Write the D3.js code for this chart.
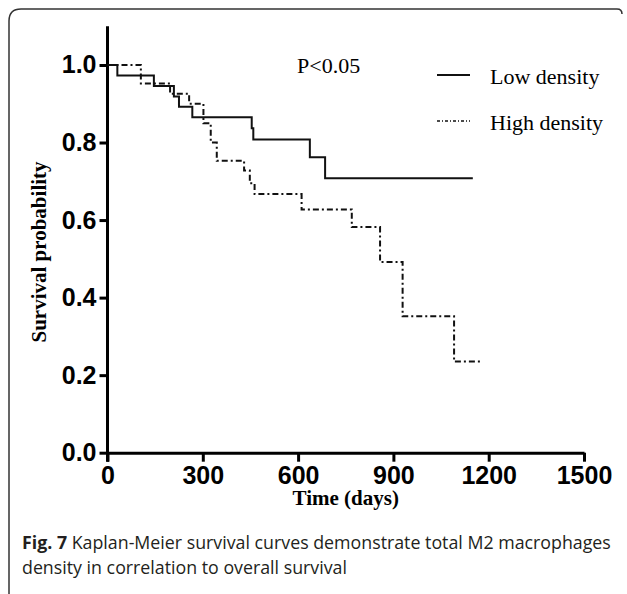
<!DOCTYPE html>
<html>
<head>
<meta charset="utf-8">
<script src="https://cdn.jsdelivr.net/npm/d3@7"></script>
<style>
  body { margin: 0; background: #fff; }
</style>
</head>
<body>
<div id="chart"></div>
<script>
// survival data (days, probability from that day on)
var lowTimes = [0, 31, 146, 209, 225, 267, 454, 459, 637, 685, 1150];
var lowSurv  = [1.0, 0.973, 0.946, 0.919, 0.892, 0.865, 0.837, 0.808, 0.762, 0.708, 0.708];

var highTimes = [0, 105, 197, 257, 302, 325, 344, 430, 448, 463, 611, 769, 858, 929, 1091, 1175];
var highSurv  = [1.0, 0.952, 0.926, 0.900, 0.850, 0.800, 0.753, 0.728, 0.695, 0.667, 0.627, 0.582, 0.492, 0.352, 0.235, 0.235];

var xTicks = [0, 300, 600, 900, 1200, 1500];
var yTicks = [0, 0.2, 0.4, 0.6, 0.8, 1.0];
var seriesNames = ["Low density", "High density"];

var W = 627, H = 594;
var svg = d3.select("#chart").append("svg")
  .attr("width", W).attr("height", H);

// frame round the figure (open at right and bottom)
svg.append("path")
  .attr("d", "M9,594 V21 Q9,9 21,9 H617 Q622,9 622,14")
  .attr("fill", "none")
  .attr("stroke", "#333")
  .attr("stroke-width", 1.5);

var x = d3.scaleLinear().domain([0, 1500]).range([107.5, 584]);
var y = d3.scaleLinear().domain([0, 1.1]).range([452.7, 26.2]);

var xAxis = svg.append("g")
  .attr("transform", "translate(0," + y(0) + ")")
  .call(d3.axisBottom(x).tickValues(xTicks).tickSize(9).tickSizeOuter(0).tickPadding(5).tickFormat(d3.format("d")));
var yAxis = svg.append("g")
  .attr("transform", "translate(" + x(0) + ",0)")
  .call(d3.axisLeft(y).tickValues(yTicks).tickSize(8).tickSizeOuter(0).tickPadding(3).tickFormat(d3.format(".1f")));

[xAxis, yAxis].forEach(function(a) {
  a.select(".domain").attr("stroke", "#000").attr("stroke-width", 3);
  a.selectAll(".tick line").attr("stroke", "#000").attr("stroke-width", 3);
  a.selectAll(".tick text")
    .attr("fill", "#000")
    .style("font-family", "'Liberation Sans', Arial, sans-serif")
    .style("font-weight", "bold")
    .style("font-size", "25px");
});
// y axis runs a little below the x axis, like the x=0 tick
yAxis.select(".domain").attr("d", "M0," + y(1.1) + "V" + (y(0) + 9));

// curves
var line = d3.line()
  .x(function(d) { return x(d[0]); })
  .y(function(d) { return y(d[1]); })
  .curve(d3.curveStepAfter);

svg.append("path")
  .datum(d3.zip(lowTimes, lowSurv))
  .attr("d", line)
  .attr("fill", "none")
  .attr("stroke", "#111")
  .attr("stroke-width", 2);

svg.append("path")
  .datum(d3.zip(highTimes, highSurv))
  .attr("d", line)
  .attr("fill", "none")
  .attr("stroke", "#111")
  .attr("stroke-width", 2)
  .attr("stroke-dasharray", "6,3,2,3");

// axis titles
svg.append("text")
  .attr("x", (x(0) + x(1500)) / 2)
  .attr("y", 505)
  .attr("text-anchor", "middle")
  .style("font-family", "'Liberation Serif', 'Times New Roman', serif")
  .style("font-weight", "bold")
  .style("font-size", "21px")
  .text("Time (days)");

svg.append("text")
  .attr("transform", "translate(46," + 252 + ") rotate(-90)")
  .attr("text-anchor", "middle")
  .style("font-family", "'Liberation Serif', 'Times New Roman', serif")
  .style("font-weight", "bold")
  .style("font-size", "21px")
  .text("Survival probability");

// p value
svg.append("text")
  .attr("x", 297).attr("y", 73)
  .style("font-family", "'Liberation Serif', 'Times New Roman', serif")
  .style("font-size", "22px")
  .text("P<0.05");

// legend
var legend = svg.selectAll(".legend")
  .data(seriesNames)
  .enter().append("g")
  .attr("transform", function(d, i) { return "translate(437," + (75 + i * 46) + ")"; });

legend.append("line")
  .attr("x1", 0).attr("x2", 33)
  .attr("stroke", "#111")
  .attr("stroke-width", function(d, i) { return i === 0 ? 2 : 1.5; })
  .attr("stroke-dasharray", function(d, i) { return i === 0 ? null : "3,2,1,2"; });

legend.append("text")
  .attr("x", 53).attr("y", 9)
  .style("font-family", "'Liberation Serif', 'Times New Roman', serif")
  .style("font-size", "22px")
  .text(function(d) { return d; });

// caption
var cap = svg.append("text")
  .attr("x", 22).attr("y", 549)
  .attr("fill", "#231f20")
  .style("font-family", "'Open Sans', sans-serif")
  .style("font-size", "17.8px");
cap.append("tspan").style("font-weight", "bold").text("Fig. 7");
cap.append("tspan").text(" Kaplan-Meier survival curves demonstrate total M2 macrophages");

svg.append("text")
  .attr("x", 22).attr("y", 574)
  .attr("fill", "#231f20")
  .style("font-family", "'Open Sans', sans-serif")
  .style("font-size", "17.8px")
  .text("density in correlation to overall survival");
</script>
</body>
</html>
